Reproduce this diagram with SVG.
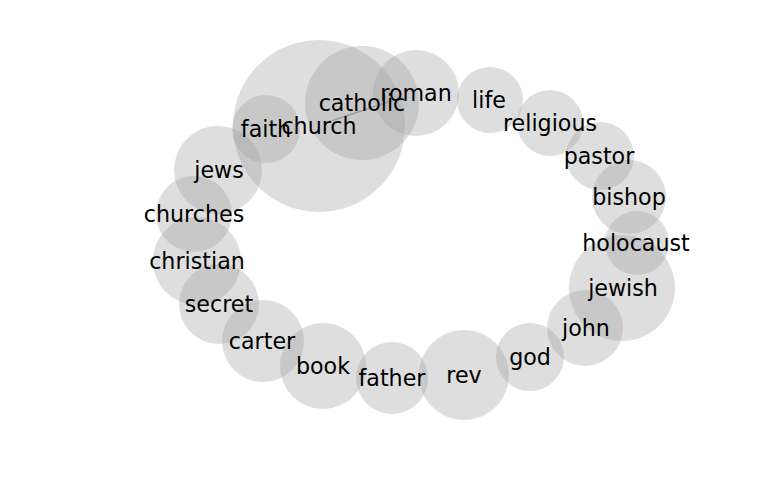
<svg xmlns="http://www.w3.org/2000/svg" width="768" height="500" viewBox="0 0 768 500">
<style>
.b{fill:#a0a0a0;fill-opacity:0.35}
.t{font-family:"DejaVu Sans",sans-serif;font-size:22.2px;fill:#000;text-anchor:middle;dominant-baseline:central}
.e{stroke:#999;stroke-width:1.5;fill:none}
</style>
<rect width="768" height="500" fill="#fff"/>
<g id="connectors"><line class="e" x1="325" y1="123" x2="400" y2="98"/></g>
<g id="church"><circle class="b" cx="319" cy="126" r="86"/></g>
<g id="catholic"><circle class="b" cx="362" cy="103" r="57"/></g>
<g id="roman"><circle class="b" cx="416" cy="93" r="43"/></g>
<g id="faith"><circle class="b" cx="266" cy="129" r="34"/></g>
<g id="life"><circle class="b" cx="490" cy="100" r="33"/></g>
<g id="religious"><circle class="b" cx="550" cy="123" r="33"/></g>
<g id="pastor"><circle class="b" cx="600" cy="156" r="34"/></g>
<g id="bishop"><circle class="b" cx="629" cy="197" r="37"/></g>
<g id="holocaust"><circle class="b" cx="637" cy="243" r="32"/></g>
<g id="jewish"><circle class="b" cx="622" cy="288" r="53"/></g>
<g id="john"><circle class="b" cx="585" cy="328" r="38"/></g>
<g id="god"><circle class="b" cx="530" cy="357" r="34"/></g>
<g id="rev"><circle class="b" cx="464" cy="375" r="45"/></g>
<g id="father"><circle class="b" cx="392" cy="378" r="36"/></g>
<g id="book"><circle class="b" cx="323" cy="366" r="43"/></g>
<g id="carter"><circle class="b" cx="263" cy="341" r="41"/></g>
<g id="secret"><circle class="b" cx="219" cy="304" r="40"/></g>
<g id="christian"><circle class="b" cx="197" cy="261" r="44"/></g>
<g id="churches"><circle class="b" cx="194" cy="214" r="38"/></g>
<g id="jews"><circle class="b" cx="218" cy="170" r="44"/></g>
<g id="labels">
<text class="t" x="319" y="126">church</text>
<text class="t" x="362" y="103">catholic</text>
<text class="t" x="416" y="93">roman</text>
<text class="t" x="266" y="129">faith</text>
<text class="t" x="489" y="100">life</text>
<text class="t" x="550" y="123">religious</text>
<text class="t" x="599" y="156">pastor</text>
<text class="t" x="629" y="197">bishop</text>
<text class="t" x="636" y="243">holocaust</text>
<text class="t" x="623" y="288">jewish</text>
<text class="t" x="586" y="328">john</text>
<text class="t" x="530" y="357">god</text>
<text class="t" x="464" y="375">rev</text>
<text class="t" x="392" y="378">father</text>
<text class="t" x="323" y="366">book</text>
<text class="t" x="262" y="341">carter</text>
<text class="t" x="219" y="304">secret</text>
<text class="t" x="197" y="261">christian</text>
<text class="t" x="194" y="214">churches</text>
<text class="t" x="219" y="170">jews</text>
</g>
</svg>
